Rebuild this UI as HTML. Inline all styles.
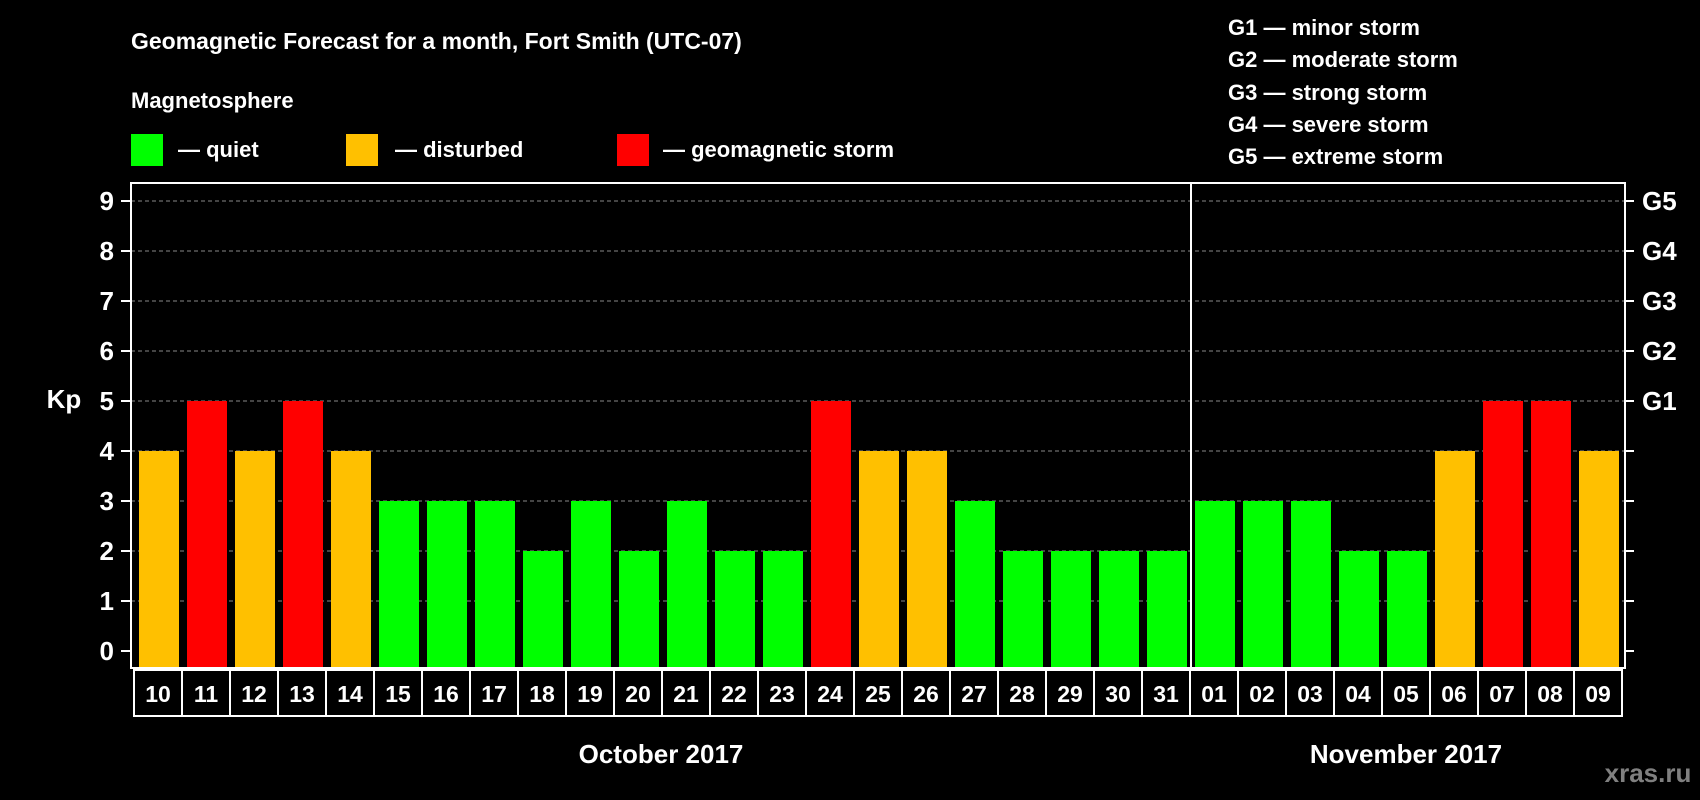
<!DOCTYPE html>
<html><head><meta charset="utf-8"><style>
html,body{margin:0;padding:0;background:#000;}
svg{display:block;font-family:"Liberation Sans",sans-serif;font-weight:bold;}
</style></head><body>
<svg id="chart" width="1700" height="800" viewBox="0 0 1700 800">
<rect x="0" y="0" width="1700" height="800" fill="#000"/>
<text x="131" y="49" fill="#fff" font-size="23">Geomagnetic Forecast for a month, Fort Smith (UTC-07)</text>
<text x="131" y="108" fill="#fff" font-size="22">Magnetosphere</text>
<rect x="131" y="134" width="32" height="32" fill="#00ff00"/>
<text x="178" y="157" fill="#fff" font-size="22">— quiet</text>
<rect x="346" y="134" width="32" height="32" fill="#ffc000"/>
<text x="395" y="157" fill="#fff" font-size="22">— disturbed</text>
<rect x="617" y="134" width="32" height="32" fill="#ff0000"/>
<text x="663" y="157" fill="#fff" font-size="22">— geomagnetic storm</text>
<g font-size="22" fill="#fff">
<text x="1228" y="35">G1 — minor storm</text>
<text x="1228" y="67">G2 — moderate storm</text>
<text x="1228" y="100">G3 — strong storm</text>
<text x="1228" y="132">G4 — severe storm</text>
<text x="1228" y="164">G5 — extreme storm</text>
</g>
<text x="64" y="408" fill="#fff" font-size="26" text-anchor="middle">Kp</text>
<g id="grid"></g>
<g id="bars"></g>
<g id="axes"></g>
<text x="661" y="763" fill="#fff" font-size="26" text-anchor="middle">October 2017</text>
<text x="1406" y="763" fill="#fff" font-size="26" text-anchor="middle">November 2017</text>
<text x="1648" y="782" fill="#808080" font-size="26" text-anchor="middle">xras.ru</text>
</svg>
<script>
const days = ["10","11","12","13","14","15","16","17","18","19","20","21","22","23","24","25","26","27","28","29","30","31","01","02","03","04","05","06","07","08","09"];
const kpValues = [4,5,4,5,4,3,3,3,2,3,2,3,2,2,5,4,4,3,2,2,2,2,3,3,3,2,2,4,5,5,4];
const yTicks = [0,1,2,3,4,5,6,7,8,9];
const gLabels = ["","","","","","G1","G2","G3","G4","G5"];
const monthBreakIndex = 22;

const NS = "http://www.w3.org/2000/svg";
const plotL = 131, plotR = 1625, plotT = 183, plotB = 668;
const y0 = 651, yUnit = 50;
const xStart = 134, pitch = 48, barW = 40;
const yScale = v => y0 - v * yUnit;
const xScale = i => xStart + i * pitch;
function mk(tag, attrs, parent) {
  const e = document.createElementNS(NS, tag);
  for (const k in attrs) e.setAttribute(k, attrs[k]);
  parent.appendChild(e);
  return e;
}
const grid = document.getElementById("grid");
const bars = document.getElementById("bars");
const axes = document.getElementById("axes");
yTicks.forEach((t, i) => {
  const y = yScale(t);
  if (t > 0) {
    const gl = mk("line", {x1: plotL, x2: plotR, y1: y, y2: y, stroke: "#888", "stroke-width": 1, "stroke-dasharray": "4,3"}, grid);
    
    
  }
  const tl = mk("line", {x1: plotL - 10, x2: plotL, y1: y, y2: y, stroke: "#fff", "stroke-width": 2}, axes);
  
  
  const tr = mk("line", {x1: plotR, x2: plotR + 9, y1: y, y2: y, stroke: "#fff", "stroke-width": 2}, axes);
  
  
  const lab = mk("text", {x: plotL - 17, y: y + 9, fill: "#fff", "font-size": 26, "text-anchor": "end"}, axes);
  lab.textContent = t;
  
  
  if (gLabels[i]) {
    const g = mk("text", {x: plotR + 17, y: y + 9, fill: "#fff", "font-size": 26}, axes);
    g.textContent = gLabels[i];
    
    
  }
});
kpValues.forEach((v, i) => {
  const color = v >= 5 ? "#ff0000" : (v >= 4 ? "#ffc000" : "#00ff00");
  const r = mk("rect", {x: xScale(i) + 5, y: yScale(v), width: barW, height: plotB - yScale(v), fill: color}, bars);
  
  
  const box = mk("rect", {x: xScale(i), y: plotB + 2, width: pitch, height: 46, fill: "none", stroke: "#fff", "stroke-width": 2}, axes);
  
  
  const t = mk("text", {x: xScale(i) + pitch / 2, y: plotB + 34, fill: "#fff", "font-size": 23, "text-anchor": "middle"}, axes);
  t.textContent = days[i];
  
  
});
const frame = mk("rect", {x: plotL, y: plotT, width: plotR - plotL, height: plotB - plotT, fill: "none", stroke: "#fff", "stroke-width": 2}, axes);


const divX = xScale(monthBreakIndex) + 1;
const div = mk("line", {x1: divX, x2: divX, y1: plotT, y2: plotB, stroke: "#fff", "stroke-width": 2}, axes);


</script>
</body></html>
